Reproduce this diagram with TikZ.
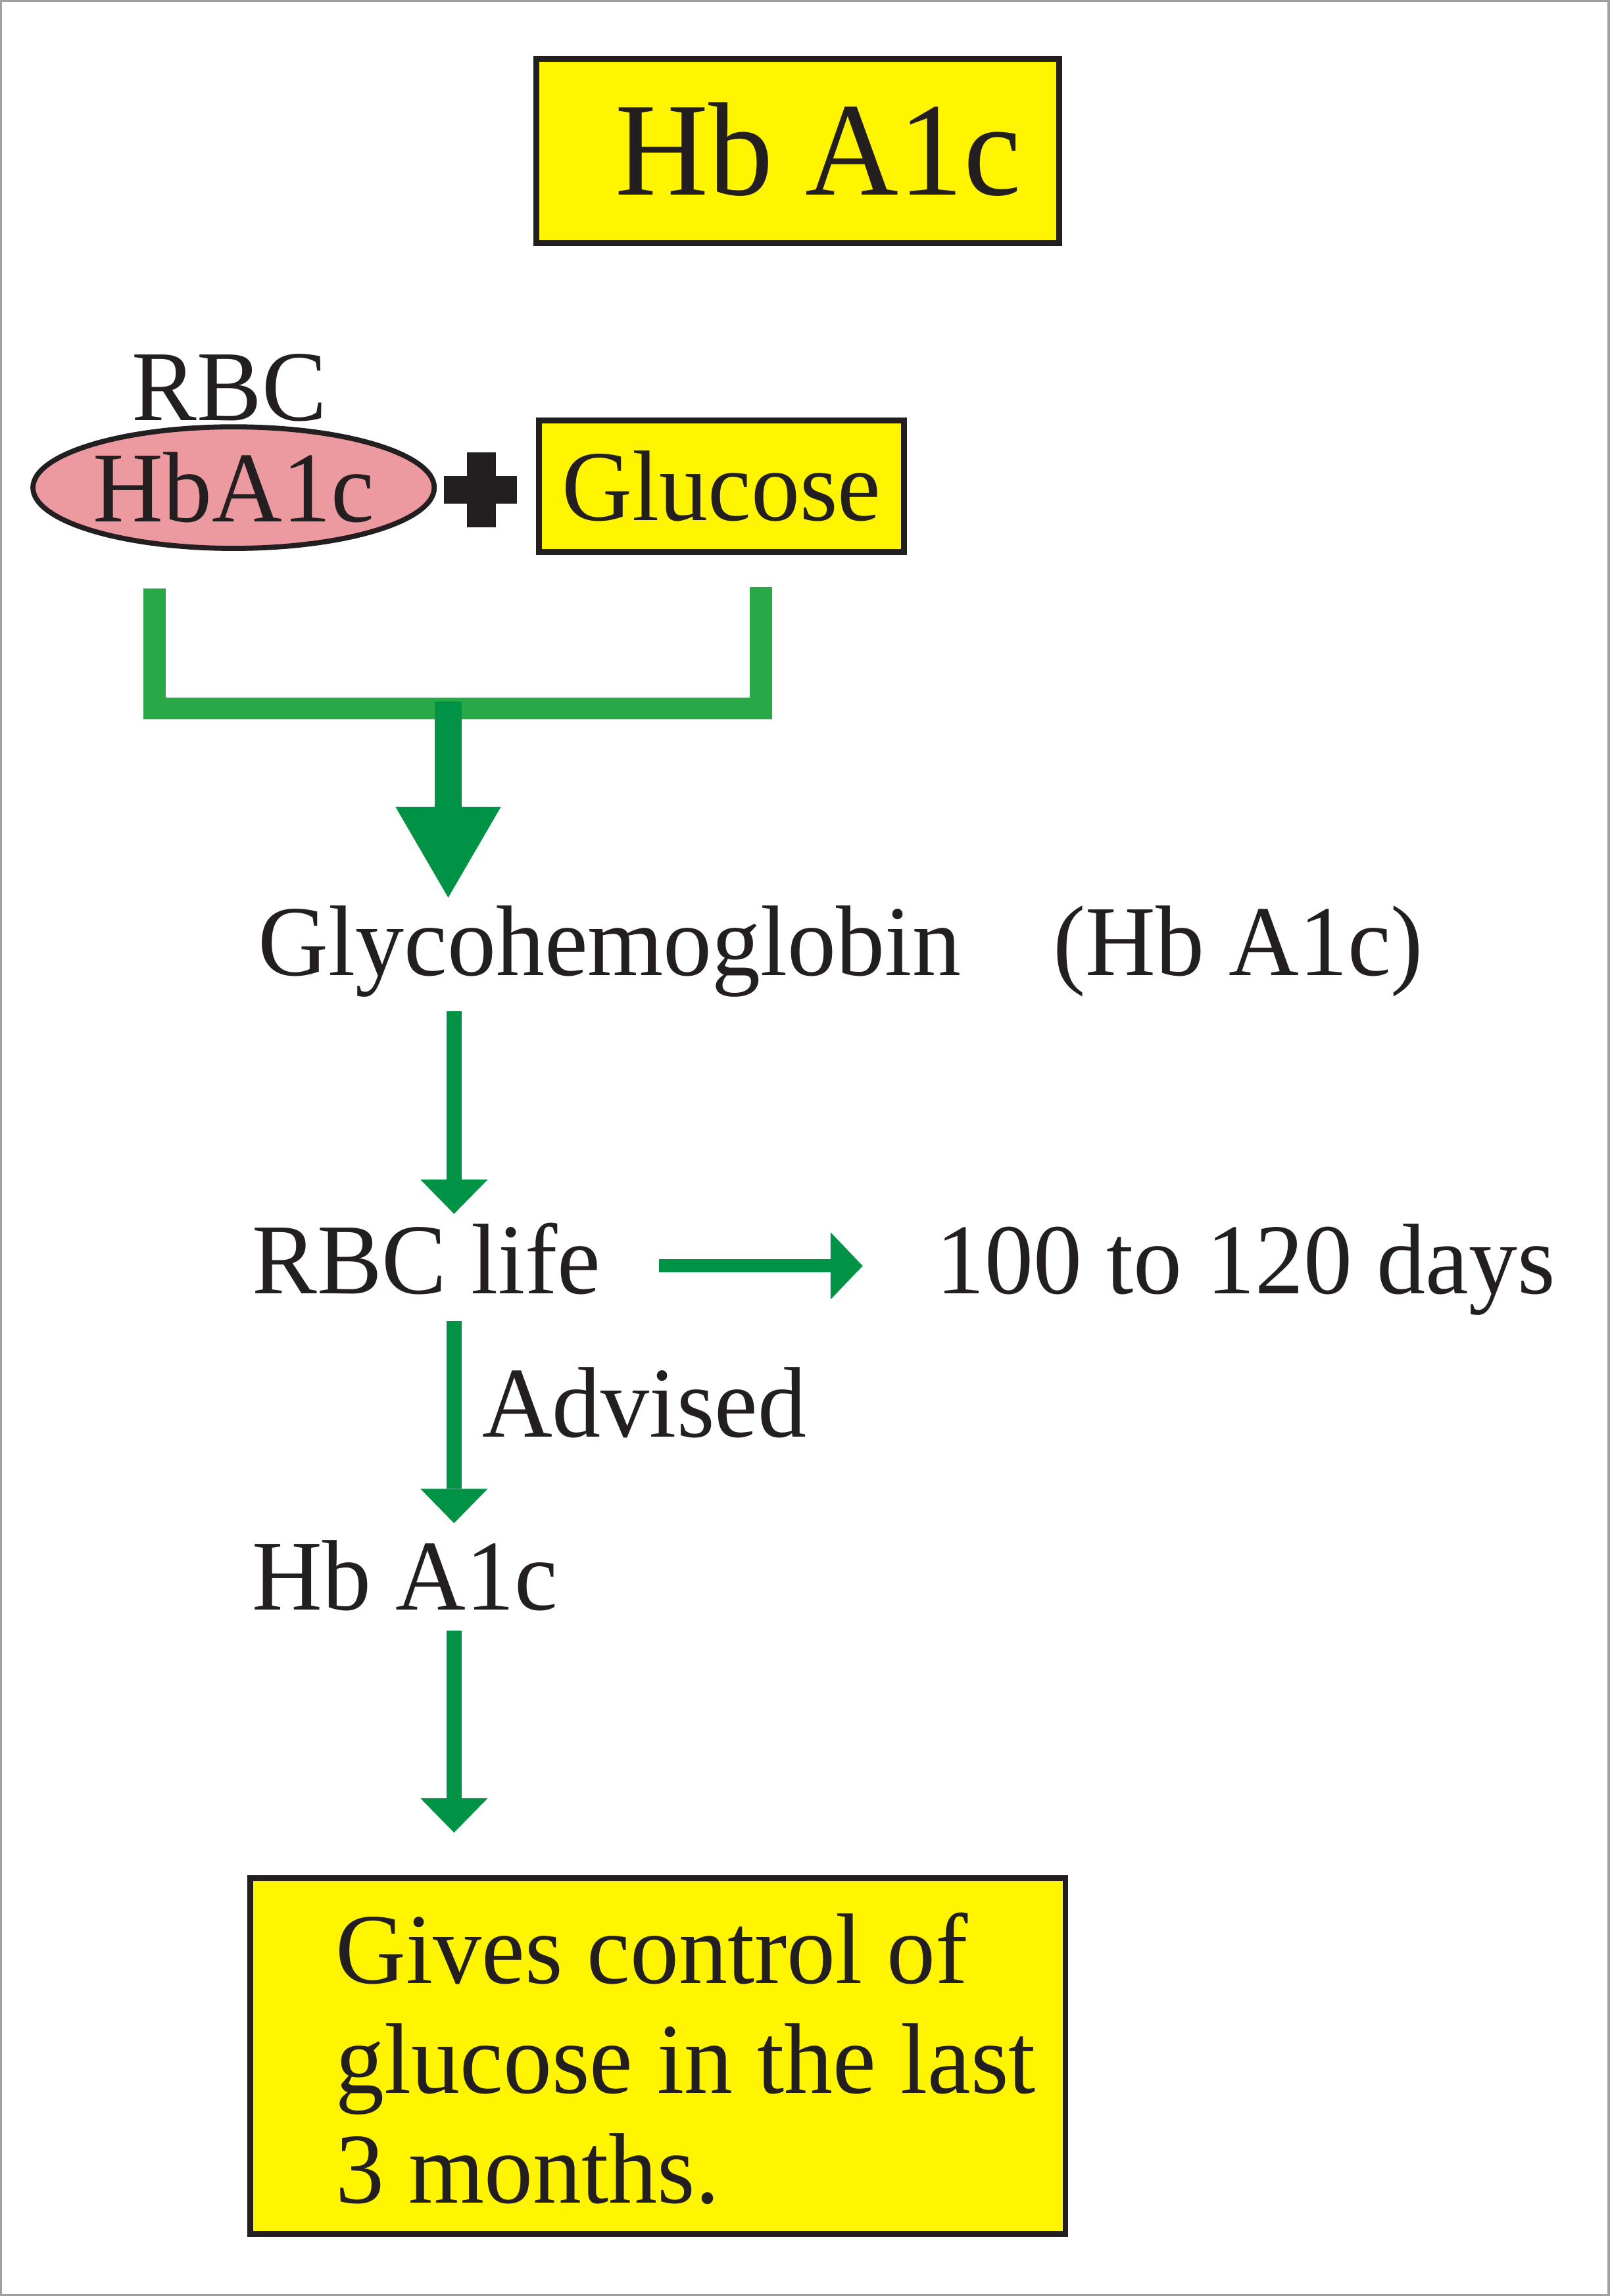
\documentclass[tikz,border=0pt]{standalone}
\usepackage{fontspec}
\setmainfont[FakeStretch=0.97]{Liberation Serif}
\usetikzlibrary{arrows.meta,shapes.geometric}
\definecolor{boxyellow}{RGB}{255,245,0}
\definecolor{cellpink}{RGB}{236,154,160}
\definecolor{bracketgreen}{RGB}{40,168,70}
\definecolor{arrowgreen}{RGB}{0,146,69}
\definecolor{inkblack}{RGB}{35,31,32}
\definecolor{framegray}{RGB}{160,160,160}
\begin{document}
\begin{tikzpicture}[x=1pt,y=-1pt,
  txt/.style={inner sep=0pt, text=inkblack, font=\fontsize{68.5}{75}\selectfont, anchor=base west},
  ybox/.style={draw=inkblack, fill=boxyellow, line width=4pt, inner sep=0pt, text=inkblack, font=\fontsize{68.5}{75}\selectfont},
  thinarr/.style={draw=arrowgreen, line width=10pt, -{Triangle[length=23.5pt,width=46pt,line width=0pt]}},
  sidearr/.style={draw=arrowgreen, line width=9pt, -{Triangle[length=22pt,width=46pt,line width=0pt]}},
  bigarr/.style={draw=arrowgreen, line width=18pt, -{Triangle[length=62pt,width=72pt,line width=0pt]}},
  bracketline/.style={draw=bracketgreen, line width=15pt}]
\useasboundingbox (0,0) rectangle (1099,1568);
\draw[framegray, line width=1.4pt] (0.7,0.7) rectangle (1098.3,1567.3);

% title
\node (titlebox) [ybox, minimum width=357pt, minimum height=126pt] at (544.5,103) {};
\node (titletext) [txt, font=\fontsize{91}{100}\selectfont] at (420,133) {Hb A1c};

% reactants
\node (rbc) [txt] at (90,287) {RBC};
\node (hbcell) [ellipse, draw=inkblack, fill=cellpink, line width=3.5pt, minimum width=274pt, minimum height=83pt, inner sep=0pt, text=inkblack, font=\fontsize{68.5}{75}\selectfont] at (159.5,333) {HbA1c};
\coordinate (plus) at (328.5,334.5);
\fill[inkblack] (303,325) rectangle (353,344);
\fill[inkblack] (319,309) rectangle (338.5,360);
\node (glucose) [ybox, minimum width=249pt, minimum height=90pt] at (492.5,332) {Glucose};

% bracket and big arrow
\coordinate (bl) at (105.5,402);
\coordinate (br) at (519.5,401);
\coordinate (bj) at (306,483.75);
\draw[bracketline] (bl) |- (bj) -| (br);
\coordinate (bstart) at (306,479);
\coordinate (btip) at (306,613);
\draw[bigarr] (bstart) -- (btip);

% flow
\node (glyco) [txt] at (176,666) {Glycohemoglobin\hspace{63pt}(Hb A1c)};
\coordinate (a1s) at (310,690.4);
\coordinate (a1e) at (310,829);
\draw[thinarr] (a1s) -- (a1e);

\node (life) [txt] at (172,883.3) {RBC life};
\node (days) [txt] at (639,883.3) {100 to 120 days};
\coordinate (hs) at (450,864.5);
\coordinate (he) at (589,864.5);
\draw[sidearr] (hs) -- (he);

\coordinate (a2s) at (310,902.3);
\coordinate (a2e) at (310,1040.2);
\draw[thinarr] (a2s) -- (a2e);
\node (advised) [txt] at (329,981.3) {Advised};

\node (hb) [txt] at (172,1099.5) {Hb A1c};
\coordinate (a3s) at (310,1113.5);
\coordinate (a3e) at (310,1251.5);
\draw[thinarr] (a3s) -- (a3e);

% result
\node (result) [ybox, minimum width=556.4pt, minimum height=242.8pt] at (449.2,1404.1) {};
\node (resulttext) [txt, align=left, text width=520pt] at (229,1354.6) {\spaceskip=0pt\xspaceskip=0pt\relax Gives control of\\glucose in the last\\3 months.};
\end{tikzpicture}
\end{document}
